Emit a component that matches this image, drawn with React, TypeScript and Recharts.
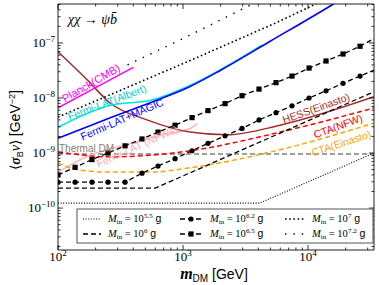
import React from "react";
import { LineChart, Line, XAxis, YAxis } from "recharts";

type Pt = { m: number; sv: number };

// axis ticks
const xMajor = [1e2, 1e3, 1e4];
const xExp = ["2", "3", "4"];
const xMinor = [200, 300, 400, 500, 600, 700, 800, 900, 2000, 3000, 4000, 5000, 6000, 7000, 8000, 9000, 20000, 30000];
const yMajor = [1e-10, 1e-9, 1e-8, 1e-7];
const yExp = ["\u221210", "\u22129", "\u22128", "\u22127"];
const yMinor = [
  2e-11, 3e-11, 4e-11, 5e-11, 6e-11, 7e-11, 8e-11, 9e-11,
  2e-10, 3e-10, 4e-10, 5e-10, 6e-10, 7e-10, 8e-10, 9e-10,
  2e-9, 3e-9, 4e-9, 5e-9, 6e-9, 7e-9, 8e-9, 9e-9,
  2e-8, 3e-8, 4e-8, 5e-8, 6e-8, 7e-8, 8e-8, 9e-8,
  2e-7, 3e-7, 4e-7, 5e-7,
];

// PBH-evaporation limits for different M_in
const pbh55: Pt[] = [
  { m: 100, sv: 1.23e-10 }, { m: 4100, sv: 1.23e-10 }, { m: 33700, sv: 1.0e-9 },
];
const pbh6: Pt[] = [
  { m: 100, sv: 2.3e-10 }, { m: 600, sv: 2.3e-10 }, { m: 33700, sv: 1.3e-8 },
];
const pbh62: Pt[] = [
  { m: 100, sv: 2.95e-10 }, { m: 137, sv: 2.95e-10 }, { m: 187, sv: 2.95e-10 },
  { m: 251, sv: 2.95e-10 }, { m: 344, sv: 2.95e-10 }, { m: 470, sv: 4.3e-10 },
  { m: 631, sv: 5.8e-10 }, { m: 863, sv: 7.9e-10 }, { m: 1180, sv: 1.1e-9 },
  { m: 1585, sv: 1.5e-9 }, { m: 2170, sv: 2.05e-9 }, { m: 2965, sv: 2.8e-9 },
  { m: 4055, sv: 4.0e-9 }, { m: 5546, sv: 5.4e-9 }, { m: 7447, sv: 7.2e-9 },
  { m: 10190, sv: 1.0e-8 }, { m: 13930, sv: 1.35e-8 }, { m: 19050, sv: 1.85e-8 },
  { m: 26060, sv: 2.5e-8 }, { m: 33700, sv: 3.2e-8 },
];
const pbh65: Pt[] = [
  { m: 100, sv: 4.0e-10 }, { m: 137, sv: 5.5e-10 }, { m: 187, sv: 7.6e-10 },
  { m: 251, sv: 1.0e-9 }, { m: 344, sv: 1.35e-9 }, { m: 470, sv: 1.8e-9 },
  { m: 631, sv: 2.4e-9 }, { m: 863, sv: 3.2e-9 }, { m: 1180, sv: 4.4e-9 },
  { m: 1585, sv: 5.9e-9 }, { m: 2170, sv: 7.9e-9 }, { m: 2965, sv: 1.1e-8 },
  { m: 4055, sv: 1.45e-8 }, { m: 5546, sv: 1.9e-8 }, { m: 7447, sv: 2.5e-8 },
  { m: 10190, sv: 3.5e-8 }, { m: 13930, sv: 4.7e-8 }, { m: 19050, sv: 6.3e-8 },
  { m: 26060, sv: 8.7e-8 }, { m: 33700, sv: 1.2e-7 },
];
const pbh7: Pt[] = [
  { m: 100, sv: 4.5e-9 }, { m: 1070, sv: 4.5e-8 }, { m: 5500, sv: 2.3e-7 }, { m: 14000, sv: 6.3e-7 },
];
const pbh72: Pt[] = [
  { m: 360, sv: 4.0e-8 }, { m: 1000, sv: 1.2e-7 }, { m: 3600, sv: 5.1e-7 }, { m: 4500, sv: 6.5e-7 },
];

// experimental limits
const fermiMagic: Pt[] = [
  { m: 100, sv: 1.86e-9 }, { m: 250, sv: 4.2e-9 }, { m: 600, sv: 8.9e-9 },
  { m: 1140, sv: 1.62e-8 }, { m: 2000, sv: 3.2e-8 }, { m: 4900, sv: 1.05e-7 },
  { m: 15500, sv: 4.9e-7 }, { m: 20000, sv: 7e-7 },
];
const fermiAlbert: Pt[] = [
  { m: 100, sv: 2.95e-9 }, { m: 263, sv: 7.4e-9 }, { m: 550, sv: 9.1e-9 },
  { m: 1140, sv: 1.7e-8 }, { m: 4270, sv: 9.1e-8 },
];
const planck: Pt[] = [{ m: 100, sv: 6.6e-9 }, { m: 400, sv: 3.6e-8 }];
const hess: Pt[] = [
  { m: 100, sv: 6.9e-8 }, { m: 171, sv: 2.14e-8 }, { m: 261, sv: 8.1e-9 },
  { m: 515, sv: 4.0e-9 }, { m: 1140, sv: 2.4e-9 }, { m: 2250, sv: 2.14e-9 },
  { m: 5970, sv: 3.2e-9 }, { m: 33700, sv: 1.05e-8 },
];
const ctaNfw: Pt[] = [
  { m: 100, sv: 1.05e-9 }, { m: 261, sv: 8.5e-10 }, { m: 545, sv: 9.1e-10 },
  { m: 1140, sv: 1.1e-9 }, { m: 5970, sv: 2.4e-9 }, { m: 33700, sv: 6.6e-9 },
];
const ctaEin: Pt[] = [
  { m: 100, sv: 6.6e-10 }, { m: 150, sv: 4.9e-10 }, { m: 261, sv: 4.5e-10 },
  { m: 545, sv: 4.5e-10 }, { m: 1140, sv: 5.4e-10 }, { m: 5970, sv: 1.15e-9 }, { m: 33700, sv: 3.5e-9 },
];
const thermal: Pt[] = [{ m: 100, sv: 9.6e-10 }, { m: 33700, sv: 9.6e-10 }];
const fermiNfw: Pt[] = [
  { m: 100, sv: 4.5e-10 }, { m: 180, sv: 9.1e-10 }, { m: 390, sv: 1.5e-9 },
  { m: 650, sv: 2.1e-9 }, { m: 1140, sv: 2.8e-9 }, { m: 1300, sv: 3.4e-9 },
];

const serif = "'Liberation Serif', 'DejaVu Serif', serif";
const sans = "'Liberation Sans', Arial, sans-serif";

function BottomTick(p: any) {
  const i = xMajor.indexOf(p.payload.value);
  const len = i >= 0 ? 5 : 2.5;
  return (
    <g>
      <line x1={p.x} x2={p.x} y1={p.y} y2={p.y - len} stroke="#000" strokeWidth={0.8} />
      {i >= 0 && (
        <text x={p.x} y={p.y + 11} textAnchor="middle" fontFamily={serif} fontSize={13} fill="#000">
          10<tspan dy={-5} fontSize={9}>{xExp[i]}</tspan>
        </text>
      )}
    </g>
  );
}
function TopTick(p: any) {
  const len = xMajor.indexOf(p.payload.value) >= 0 ? 5 : 2.5;
  return <line x1={p.x} x2={p.x} y1={p.y} y2={p.y + len} stroke="#000" strokeWidth={0.8} />;
}
function LeftTick(p: any) {
  const i = yMajor.indexOf(p.payload.value);
  const len = i >= 0 ? 5 : 2.5;
  return (
    <g>
      <line x1={p.x} x2={p.x + len} y1={p.y} y2={p.y} stroke="#000" strokeWidth={0.8} />
      {i >= 0 && (
        <text x={p.x - 3} y={p.y + 4} textAnchor="end" fontFamily={serif} fontSize={13} fill="#000">
          10<tspan dy={-5} fontSize={9}>{yExp[i]}</tspan>
        </text>
      )}
    </g>
  );
}
function RightTick(p: any) {
  const len = yMajor.indexOf(p.payload.value) >= 0 ? 5 : 2.5;
  return <line x1={p.x} x2={p.x - len} y1={p.y} y2={p.y} stroke="#000" strokeWidth={0.8} />;
}

const circleDot = (n: number) => (p: any) =>
  p.index < n - 1 ? <circle key={p.index} cx={p.cx} cy={p.cy} r={2.6} fill="#000" /> : <g key={p.index} />;
const squareDot = (n: number) => (p: any) =>
  p.index < n - 1 ? <rect key={p.index} x={p.cx - 2.6} y={p.cy - 2.6} width={5.2} height={5.2} fill="#000" /> : <g key={p.index} />;

function Lab(props: { x: number; y: number; a: number; c: string; t: string; s?: number; o?: number }) {
  return (
    <text
      x={props.x}
      y={props.y}
      transform={`rotate(${props.a} ${props.x} ${props.y})`}
      textAnchor="middle"
      dominantBaseline="central"
      fontFamily={sans}
      fontSize={props.s ?? 11}
      fill={props.c}
      opacity={props.o ?? 1}
    >
      {props.t}
    </text>
  );
}

function MinLabel({ x, y, e }: { x: number; y: number; e: string }) {
  return (
    <text x={x} y={y} fontSize={10.5} fontFamily={serif} fill="#000">
      <tspan fontStyle="italic">M</tspan>
      <tspan fontSize={7} dy={2}>in</tspan>
      <tspan dy={-2}> = 10</tspan>
      <tspan fontSize={7} dy={-4}>{e}</tspan>
      <tspan dy={4} fontFamily={sans}> g</tspan>
    </text>
  );
}

export default function App() {
  const ax = { xAxisId: "b", yAxisId: "l", dataKey: "sv", isAnimationActive: false, dot: false, activeDot: false } as const;
  return (
    <div style={{ position: "absolute", left: 0, top: 0, width: 379, height: 285, background: "#fff" }}>
      <LineChart width={379} height={285} margin={{ top: 0, right: 0, bottom: 0, left: 0 }}>
        <XAxis
          xAxisId="b" type="number" dataKey="m" scale="log" domain={[100, 33700]} allowDataOverflow
          ticks={[...xMajor, ...xMinor]} interval={0} tickSize={0} tickMargin={0} height={35}
          tick={BottomTick} tickLine={false} axisLine={{ stroke: "#222" }}
        />
        <XAxis
          xAxisId="t" orientation="top" type="number" dataKey="m" scale="log" domain={[100, 33700]} allowDataOverflow
          ticks={[...xMajor, ...xMinor]} interval={0} tickSize={0} tickMargin={0} height={4}
          tick={TopTick} tickLine={false} axisLine={{ stroke: "#222" }}
        />
        <YAxis
          yAxisId="l" type="number" scale="log" domain={[1.73e-11, 5.1e-7]} allowDataOverflow
          ticks={[...yMajor, ...yMinor]} interval={0} tickSize={0} tickMargin={0} width={58}
          tick={LeftTick} tickLine={false} axisLine={{ stroke: "#222" }}
        />
        <YAxis
          yAxisId="r" orientation="right" type="number" scale="log" domain={[1.73e-11, 5.1e-7]} allowDataOverflow
          ticks={[...yMajor, ...yMinor]} interval={0} tickSize={0} tickMargin={0} width={5}
          tick={RightTick} tickLine={false} axisLine={{ stroke: "#222" }}
        />
        <Line {...ax} data={thermal} stroke="#808080" strokeWidth={1.4} strokeDasharray="5 3" />
        <Line {...ax} data={fermiNfw} type="monotone" stroke="#ffb6c1" strokeWidth={1.6} />
        <Line {...ax} data={ctaEin} type="monotone" stroke="#ffa500" strokeWidth={1.5} strokeDasharray="5 3" />
        <Line {...ax} data={ctaNfw} type="monotone" stroke="#ff0000" strokeWidth={1.5} strokeDasharray="5 3" />
        <Line {...ax} data={hess} type="monotone" stroke="#a52a2a" strokeWidth={1.5} />
        <Line {...ax} data={planck} stroke="#ff00ff" strokeWidth={1.6} />
        <Line {...ax} data={fermiAlbert} type="monotone" stroke="#00e5e5" strokeWidth={1.6} />
        <Line {...ax} data={fermiMagic} type="monotone" stroke="#0000ff" strokeWidth={1.6} />
        <Line {...ax} data={pbh55} stroke="#000" strokeWidth={1.1} strokeDasharray="1 1.6" />
        <Line {...ax} data={pbh6} stroke="#000" strokeWidth={1.3} strokeDasharray="5 3" />
        <Line {...ax} data={pbh62} stroke="#000" strokeWidth={1.3} strokeDasharray="5 3" dot={circleDot(pbh62.length)} />
        <Line {...ax} data={pbh65} stroke="#000" strokeWidth={1.3} strokeDasharray="5 3" dot={squareDot(pbh65.length)} />
        <Line {...ax} data={pbh7} stroke="#000" strokeWidth={1.6} strokeDasharray="1.6 2.6" />
        <Line {...ax} data={pbh72} stroke="#000" strokeWidth={1.4} strokeDasharray="1.4 7" />
      </LineChart>
      <svg width={379} height={285} style={{ position: "absolute", left: 0, top: 0, pointerEvents: "none" }}>
        <text x={68} y={24} fontFamily={serif} fontStyle="italic" fontSize={14} fill="#000">
          {"\u03c7\u03c7 \u2192 \u03c8b\u0304"}
        </text>
        <Lab x={91} y={83} a={-30} c="#ff00ff" t="Planck(CMB)" />
        <Lab x={107} y={102} a={-20.5} c="#00d0d0" t="Fermi-LAT(Albert)" s={10.5} />
        <Lab x={122} y={119} a={-23.5} c="#0000ff" t="Fermi-LAT+MAGIC" s={10.5} />
        <Lab x={137} y={146} a={-24} c="#ffa8b4" t="Fermi-LAT (NFWs)" s={10.5} />
        <text x={59} y={152} fontFamily={sans} fontSize={10} fill="#808080">Thermal DM</text>
        <Lab x={316} y={108} a={-19.5} c="#a52a2a" t="HESS(Einasto)" s={10.5} />
        <Lab x={338} y={126} a={-20} c="#ff0000" t="CTA(NFW)" s={10.5} />
        <Lab x={341} y={143} a={-18} c="#ffa500" t="CTA(Einasto)" s={10.5} />

        <text transform="translate(20,130) rotate(-90)" textAnchor="middle" fontFamily={sans} fontSize={14} fill="#000">
          {"\u27e8"}
          <tspan fontFamily={serif} fontStyle="italic" fontWeight="bold">{"\u03c3"}</tspan>
          <tspan fontSize={9} dy={3}>B</tspan>
          <tspan dy={-3} fontFamily={serif} fontStyle="italic">v</tspan>
          {"\u27e9 [GeV"}
          <tspan fontSize={9} dy={-5}>{"\u22122"}</tspan>
          <tspan dy={5}>]</tspan>
        </text>
        <text x={214} y={279} textAnchor="middle" fontFamily={sans} fontSize={14} fill="#000">
          <tspan fontFamily={serif} fontStyle="italic" fontWeight="bold" fontSize={16}>m</tspan>
          <tspan fontSize={10} dy={3}>DM</tspan>
          <tspan dy={-3}> [GeV]</tspan>
        </text>

        <rect x={77} y={209} width={296} height={34} fill="#fff" stroke="#555" strokeWidth={1} />
        <line x1={83} x2={101} y1={219} y2={219} stroke="#000" strokeWidth={1.1} strokeDasharray="1 1.6" />
        <line x1={83} x2={101} y1={234} y2={234} stroke="#000" strokeWidth={1.3} strokeDasharray="5 3" />
        <line x1={180} x2={201} y1={219} y2={219} stroke="#000" strokeWidth={1.3} strokeDasharray="5 3" />
        <circle cx={191} cy={219} r={2.6} fill="#000" />
        <line x1={180} x2={201} y1={234} y2={234} stroke="#000" strokeWidth={1.3} strokeDasharray="5 3" />
        <rect x={188.4} y={231.4} width={5.2} height={5.2} fill="#000" />
        <line x1={285} x2={304} y1={219} y2={219} stroke="#000" strokeWidth={1.6} strokeDasharray="1.6 2.6" />
        <line x1={285} x2={304} y1={234} y2={234} stroke="#000" strokeWidth={1.4} strokeDasharray="1.4 7" />
        <MinLabel x={108} y={222} e="5.5" />
        <MinLabel x={108} y={237} e="6" />
        <MinLabel x={210} y={222} e="6.2" />
        <MinLabel x={210} y={237} e="6.5" />
        <MinLabel x={312} y={222} e="7" />
        <MinLabel x={312} y={237} e="7.2" />
      </svg>
    </div>
  );
}
